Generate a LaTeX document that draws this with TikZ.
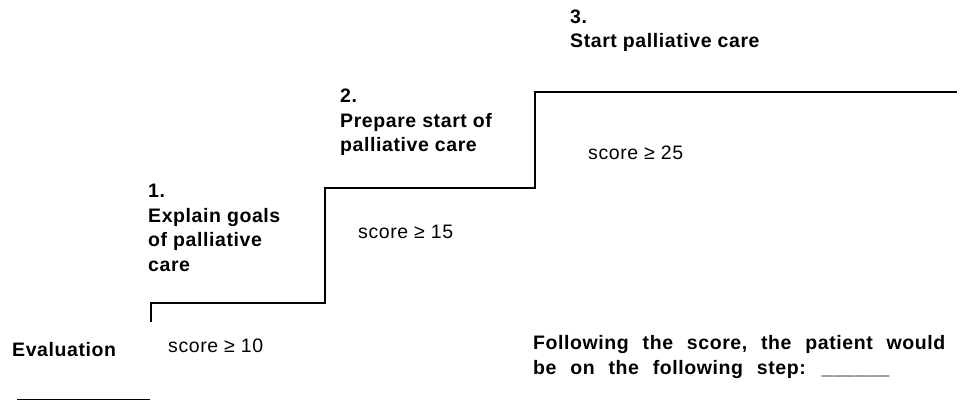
\documentclass[tikz,border=0pt]{standalone}
\usepackage{fontspec}
\setmainfont{Liberation Sans}[LetterSpace=3]
\newfontfamily\widefont{Liberation Sans}[LetterSpace=3,WordSpace=2.3]
\tikzstyle{heading}=[anchor=base west, inner sep=0pt, align=left, font=\fontsize{19.5}{24.5}\selectfont\bfseries]
\tikzstyle{score}=[anchor=base west, inner sep=0pt, font=\fontsize{19.5}{24.5}\selectfont]
\tikzstyle{stair}=[line width=1.2pt]

\begin{document}
\begin{tikzpicture}[x=1pt,y=-1pt]
  \useasboundingbox (0,0) rectangle (961,401);
  %% The stairs
  \draw[stair] (151,322) -- (151,303) -- (325,303) -- (325,188) -- (535,188) -- (535,92) -- (957,92);

  %% Steps (base = last line)
  \draw (148,271) node[heading] (step1) {1.\\Explain goals\\of palliative\\care};
  \draw (340,152) node[heading] (step2) {2.\\Prepare start of\\palliative care};
  \draw (570,48) node[heading] (step3) {3.\\Start palliative care};

  %% Scores
  \draw (168,352) node[score] (score1) {score ≥ 10};
  \draw (358,238) node[score] (score2) {score ≥ 15};
  \draw (588,160) node[score] (score3) {score ≥ 25};

  %% Evaluation
  \draw (12,356) node[heading] (eval) {Evaluation};
  \draw[line width=1pt] (17,399) -- (150,399);
  \draw (533,374) node[heading,font=\fontsize{19.5}{24.5}\selectfont\widefont\bfseries] (question) {Following the score, the patient would\\be on the following step: \_\_\_\_\_\_};
\end{tikzpicture}
\end{document}
